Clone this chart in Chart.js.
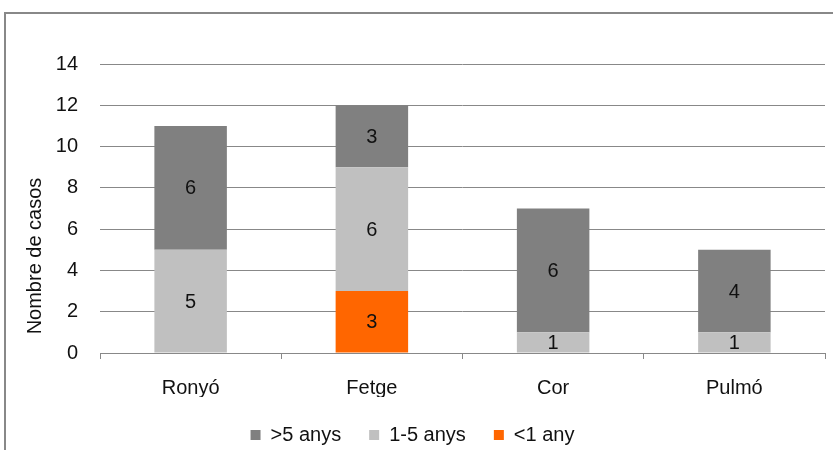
<!DOCTYPE html>
<html>
<head>
<meta charset="utf-8">
<script src="https://cdn.jsdelivr.net/npm/chart.js@4/dist/chart.umd.min.js"></script>
<style>
  html, body { margin: 0; padding: 0; background: #fff; }
  #wrap { position: relative; width: 833px; height: 450px; overflow: hidden; }
  #frame { position: absolute; left: 4px; top: 12px; width: 900px; height: 500px;
           border-left: 2px solid #888; border-top: 2px solid #888; }
  canvas { position: absolute; left: 0; top: 0; }
</style>
</head>
<body>
<div id="wrap">
  <div id="frame"></div>
  <canvas id="casesChart" width="833" height="450"></canvas>
</div>
<script>
const categories = ['Ronyó', 'Fetge', 'Cor', 'Pulmó'];
const lessThan1 = [0, 3, 0, 0];
const oneToFive = [5, 6, 1, 1];
const moreThan5 = [6, 3, 6, 4];
const yTicks = [0, 2, 4, 6, 8, 10, 12, 14];
const yTitle = 'Nombre de casos';

const FONT = 'Liberation Sans, Arial, sans-serif';
const FONT_SIZE = 20;

// draws the value in the middle of each segment (skips zeros) and the y title
const segmentLabels = {
    id: 'segmentLabels',
    afterDatasetsDraw(chart) {
        const ctx = chart.ctx;
        ctx.save();
        ctx.font = FONT_SIZE + 'px ' + FONT;
        ctx.fillStyle = '#111';
        ctx.textAlign = 'center';
        ctx.textBaseline = 'middle';
        chart.data.datasets.forEach((ds, i) => {
            chart.getDatasetMeta(i).data.forEach((bar, j) => {
                const v = ds.data[j];
                if (!v) return;
                const mid = (bar.y + bar.base) / 2;
                ctx.fillText(String(v), bar.x, mid + 1);
            });
        });
        // axis title, sits a bit below the middle of the plot like the original
        ctx.translate(35, 256);
        ctx.rotate(-Math.PI / 2);
        ctx.fillText(yTitle, 0, 0);
        ctx.restore();
    }
};

// legend keeps wide gaps between items but a shorter box than padding would give
const legendHeight = {
    id: 'legendHeight',
    beforeLayout(chart) {
        const lg = chart.legend;
        if (lg && !lg._patched) {
            const origFit = lg.fit.bind(lg);
            lg.fit = function () {
                origFit();
                this.height = 53;
            };
            lg._patched = true;
        }
    }
};

const ctx = document.getElementById('casesChart').getContext('2d');
const casesChart = new Chart(ctx, {
    type: 'bar',
    data: {
        labels: categories,
        datasets: [{
            label: '<1 any',
            data: lessThan1,
            backgroundColor: '#FF6600',
        }, {
            label: '1-5 anys',
            data: oneToFive,
            backgroundColor: '#C0C0C0',
        }, {
            label: '>5 anys',
            data: moreThan5,
            backgroundColor: '#808080',
        }]
    },
    options: {
        responsive: false,
        animation: false,
        categoryPercentage: 1,
        barPercentage: 0.4,
        layout: { padding: { left: 0, right: 8, top: 64, bottom: 0 } },
        scales: {
            x: {
                stacked: true,
                offset: true,
                grid: { display: true, drawOnChartArea: false, offset: true, tickLength: 6, color: '#888' },
                border: { color: '#888' },
                ticks: { color: '#111', font: { family: FONT, size: FONT_SIZE }, padding: 17 },
                afterFit(scale) { scale.height = 44; }
            },
            y: {
                stacked: true,
                min: 0,
                max: 14,
                afterBuildTicks(scale) { scale.ticks = yTicks.map(v => ({ value: v })); },
                grid: { color: '#888', drawTicks: false },
                border: { display: false },
                ticks: { color: '#111', font: { family: FONT, size: FONT_SIZE }, padding: 22 },
                afterFit(scale) { scale.width = 100; }
            }
        },
        plugins: {
            legend: {
                position: 'bottom',
                reverse: true,
                labels: {
                    color: '#111',
                    font: { family: FONT, size: FONT_SIZE },
                    boxWidth: 10,
                    boxHeight: 10,
                    padding: 28
                }
            },
            tooltip: { enabled: false }
        }
    },
    plugins: [segmentLabels, legendHeight]
});
</script>
</body>
</html>
